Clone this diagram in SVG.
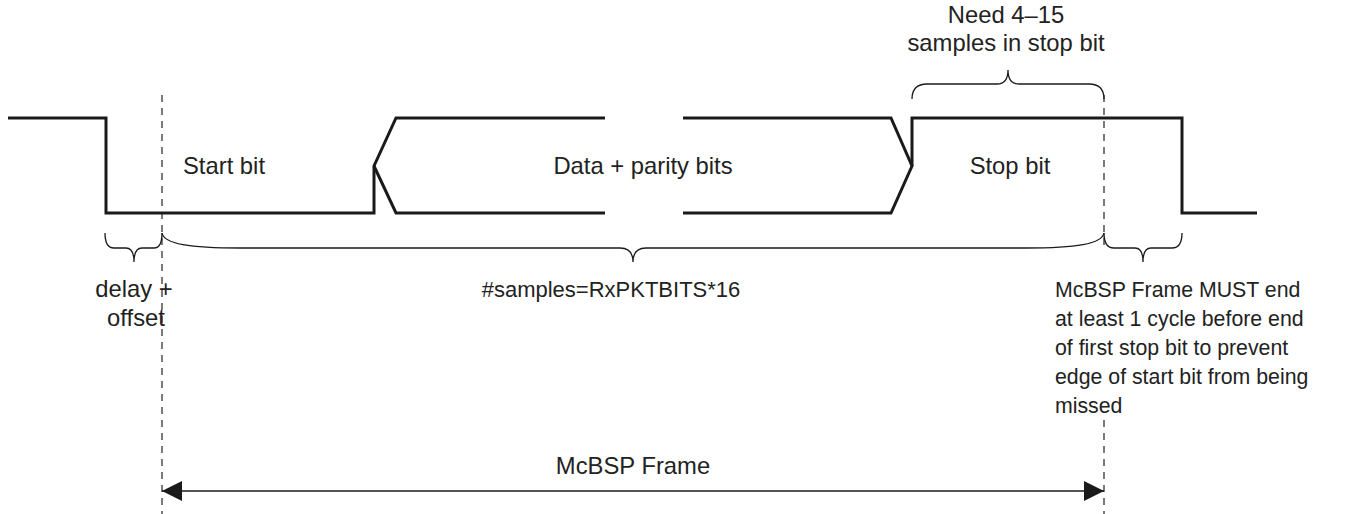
<svg xmlns="http://www.w3.org/2000/svg" width="1355" height="514" viewBox="0 0 1355 514">
  <style>
    .wave { fill: none; stroke: #1a1a1a; stroke-width: 3; stroke-linejoin: miter; }
    .brace { fill: none; stroke: #1a1a1a; stroke-width: 1.3; }
    .guide { fill: none; stroke: #333; stroke-width: 1.3; stroke-dasharray: 7 6; }
    .dim { fill: none; stroke: #1a1a1a; stroke-width: 1.4; }
    text { font-family: "Liberation Sans", Arial, sans-serif; font-size: 22px; fill: #222; }
    .lbl { font-size: 23.8px; }
    .note { font-size: 21.3px; }
    .mid { text-anchor: middle; }
  </style>
  <defs>
    <marker id="arrowhead" viewBox="0 0 20 20" refX="20" refY="10" markerWidth="20" markerHeight="20" markerUnits="userSpaceOnUse" orient="auto-start-reverse">
      <path d="M0,0 L20,10 L0,20 Z" fill="#1a1a1a"/>
    </marker>
  </defs>

  <rect width="1355" height="514" fill="#fff"/>

  <!-- frame boundary guides (right one is broken around the note text) -->
  <g id="guides">
    <line class="guide" x1="162" y1="95" x2="162" y2="514"/>
    <line class="guide" x1="1104" y1="95" x2="1104" y2="250"/>
    <line class="guide" x1="1104" y1="420" x2="1104" y2="514"/>
  </g>

  <!-- serial waveform -->
  <g id="waveform">
    <path class="wave" d="M8,118 H106 V213 H374 V166 L396,118 H605"/>
    <path class="wave" d="M374,166 L396,213 H605"/>
    <path class="wave" d="M683,118 H891 L912,166 L891,213 H683"/>
    <path class="wave" d="M912,166 V118 H1182 V213 H1257"/>
  </g>

  <g id="bit-labels">
    <text class="lbl" x="183" y="174">Start bit</text>
    <text class="lbl mid" x="643" y="174">Data + parity bits</text>
    <text class="lbl mid" x="1010" y="174">Stop bit</text>
  </g>

  <!-- stop-bit sample window -->
  <g id="stop-window">
    <path class="brace" d="M912,99 Q912,84 927,84 L997,84 Q1008,84 1008,70 Q1008,84 1019,84 L1089,84 Q1104,84 1104,99"/>
    <text class="lbl mid" x="1006" y="23">Need 4–15</text>
    <text class="lbl mid" x="1006" y="51">samples in stop bit</text>
  </g>

  <g id="delay-offset">
    <path class="brace" d="M105,233 Q105,248 114,248 L126,248 Q134,248 134,262 Q134,248 142,248 L154,248 Q162,248 162,233"/>
    <text class="lbl mid" x="134" y="297">delay +</text>
    <text class="lbl mid" x="136" y="326">offset</text>
  </g>

  <g id="sample-count">
    <path class="brace" d="M162,233 C164,244 190,248 240,248 L620,248 Q633,248 633,262 Q633,248 646,248 L1026,248 C1076,248 1102,244 1104,233"/>
    <text class="mid" x="611" y="297">#samples=RxPKTBITS*16</text>
  </g>

  <g id="frame-end-note">
    <path class="brace" d="M1104,233 Q1104,248 1114,248 L1135,248 Q1143,248 1143,262 Q1143,248 1151,248 L1172,248 Q1182,248 1182,233"/>
    <text class="note" x="1055" y="297">McBSP Frame MUST end</text>
    <text class="note" x="1055" y="326">at least 1 cycle before end</text>
    <text class="note" x="1055" y="355">of first stop bit to prevent</text>
    <text class="note" x="1055" y="384">edge of start bit from being</text>
    <text class="note" x="1055" y="413">missed</text>
  </g>

  <!-- frame extent -->
  <g id="connectors">
    <line class="dim" x1="162" y1="491" x2="1104" y2="491" marker-start="url(#arrowhead)" marker-end="url(#arrowhead)"/>
  </g>
  <g id="frame-label">
    <text class="lbl mid" x="633" y="474">McBSP Frame</text>
  </g>
</svg>
